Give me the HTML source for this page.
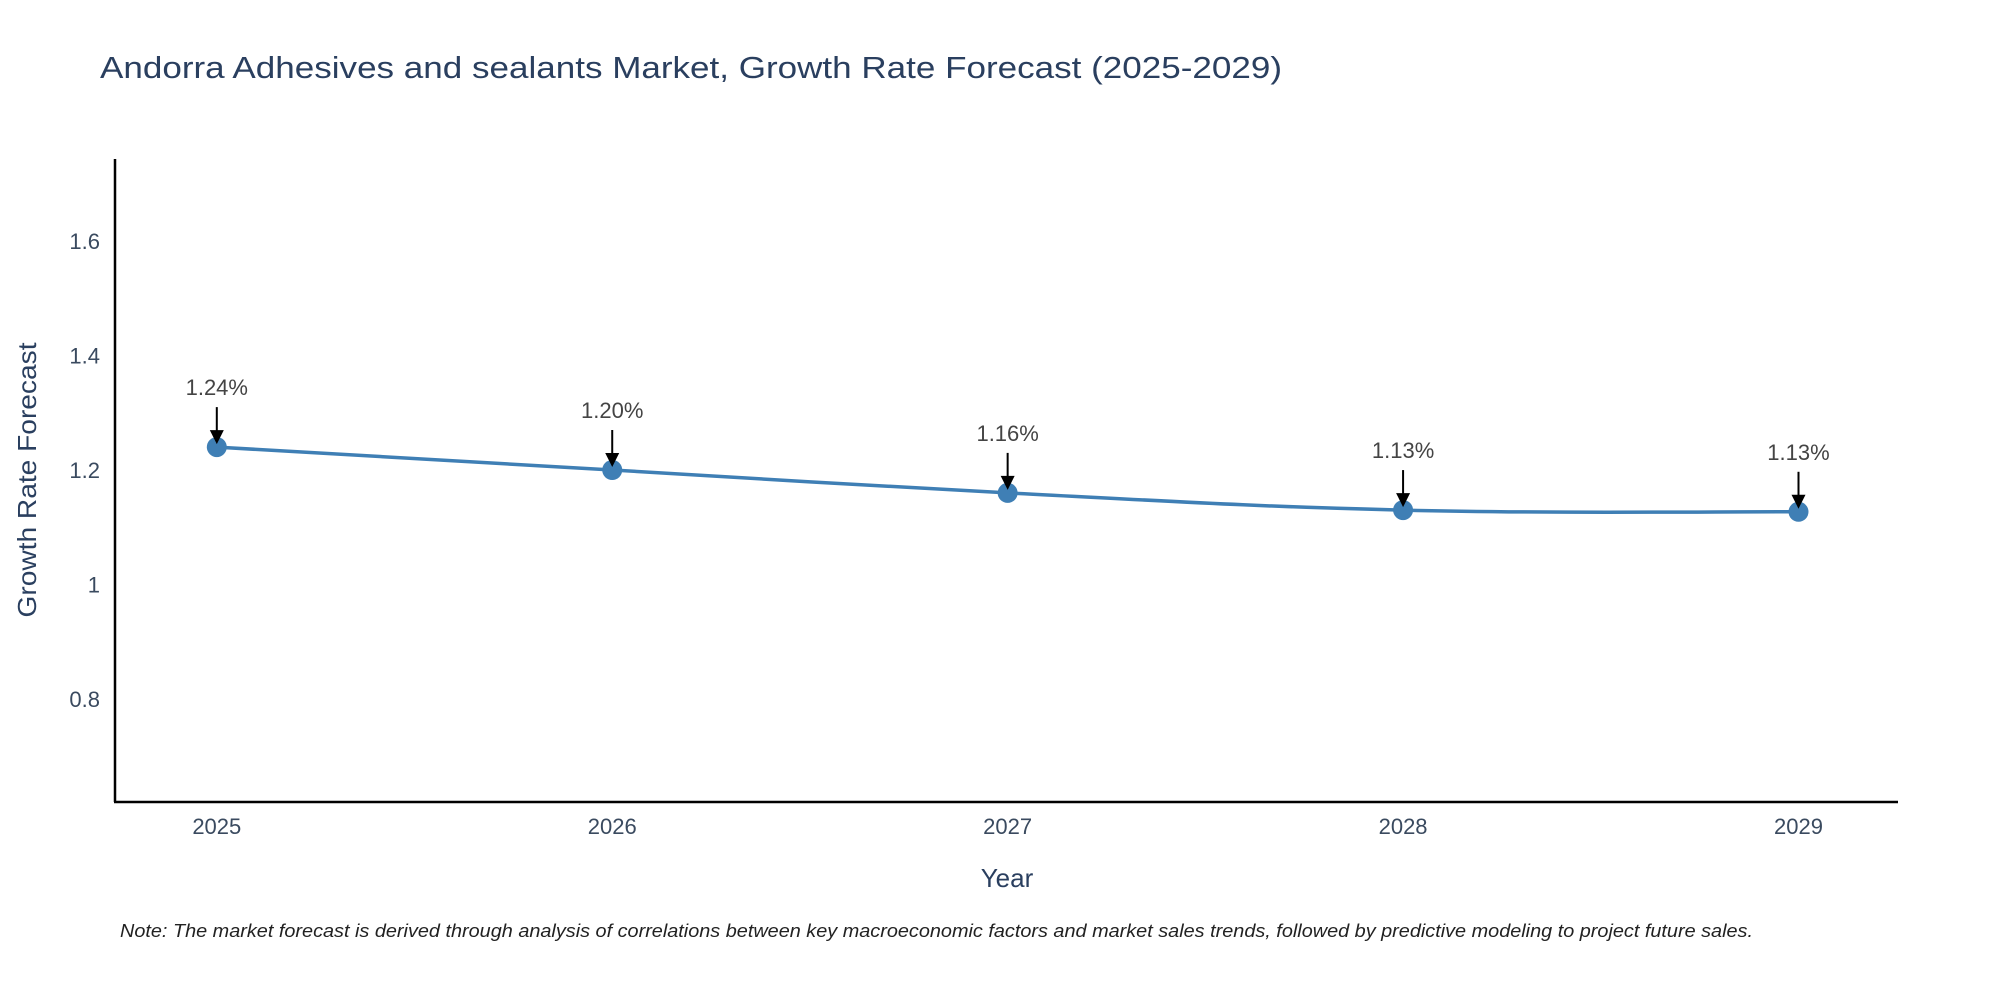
<!DOCTYPE html>
<html><head><meta charset="utf-8"><style>
body{margin:0;background:#fff;}
svg{display:block;font-family:"Liberation Sans",sans-serif;}
</style></head><body>
<svg id="chart" width="2000" height="1000" viewBox="0 0 2000 1000">
<text x="100" y="78" font-size="31" fill="#2a3f5f" textLength="1182" lengthAdjust="spacingAndGlyphs">Andorra Adhesives and sealants Market, Growth Rate Forecast (2025-2029)</text>
<g id="yticks"></g>
<g id="xticks"></g>
<line x1="115" y1="159" x2="115" y2="802" stroke="#000" stroke-width="2.5"/>
<line x1="114" y1="802" x2="1898" y2="802" stroke="#000" stroke-width="2.5"/>
<path id="line" fill="none" stroke="#3f7fb5" stroke-width="3.5"/>
<g id="points"></g>
<g id="annots"></g>
<text x="1007" y="887" font-size="26" fill="#2a3f5f" text-anchor="middle">Year</text>
<text transform="translate(36,480) rotate(-90)" font-size="26" fill="#2a3f5f" text-anchor="middle" textLength="275" lengthAdjust="spacingAndGlyphs">Growth Rate Forecast</text>
<text x="120" y="937" font-size="18" font-style="italic" fill="#222" textLength="1633" lengthAdjust="spacingAndGlyphs">Note: The market forecast is derived through analysis of correlations between key macroeconomic factors and market sales trends, followed by predictive modeling to project future sales.</text>
</svg>
<script>
const years = ["2025","2026","2027","2028","2029"];
const values = [1.24, 1.20, 1.16, 1.13, 1.127];
const labels = ["1.24%","1.20%","1.16%","1.13%","1.13%"];
const yTickVals = [0.8, 1, 1.2, 1.4, 1.6];
const yTickText = ["0.8","1","1.2","1.4","1.6"];
const NS="http://www.w3.org/2000/svg";
function xs(i){return 216.8 + i*(1798.5-216.8)/(years.length-1);}
function ys(v){return 699 - (v-0.8)*(458/0.8);}
function mk(tag,attrs,parent){const e=document.createElementNS(NS,tag);for(const k in attrs)e.setAttribute(k,attrs[k]);parent.appendChild(e);return e;}
const yt=document.getElementById('yticks');
yTickVals.forEach((v,i)=>{const t=mk('text',{x:100,y:ys(v)+8,'font-size':22,fill:'#3a4a5f','text-anchor':'end'},yt);


t.textContent=yTickText[i];});
const xt=document.getElementById('xticks');
years.forEach((y,i)=>{const t=mk('text',{x:xs(i),y:834,'font-size':22,fill:'#3a4a5f','text-anchor':'middle'},xt);


t.textContent=y;});
const P=values.map((v,i)=>[xs(i),ys(v)]);
let d='M'+P[0][0]+','+P[0][1];
for(let i=0;i<P.length-1;i++){const p0=P[Math.max(i-1,0)],p1=P[i],p2=P[i+1],p3=P[Math.min(i+2,P.length-1)];const k=0.2;
d+=' C'+(p1[0]+(p2[0]-p0[0])*k)+','+(p1[1]+(p2[1]-p0[1])*k)+' '+(p2[0]-(p3[0]-p1[0])*k)+','+(p2[1]-(p3[1]-p1[1])*k)+' '+p2[0]+','+p2[1];}
document.getElementById('line').setAttribute('d',d);
const pts=document.getElementById('points'),an=document.getElementById('annots');
P.forEach((p,i)=>{const c=mk('circle',{cx:p[0],cy:p[1],r:10,fill:'#3f7fb5'},pts);


const l=mk('line',{x1:p[0],y1:p[1]-40,x2:p[0],y2:p[1]-14,stroke:'#000','stroke-width':2},an);


const h=mk('polygon',{points:(p[0]-7)+','+(p[1]-17)+' '+(p[0]+7)+','+(p[1]-17)+' '+p[0]+','+(p[1]-3),fill:'#000'},an);


const t=mk('text',{x:p[0],y:p[1]-52,'font-size':22,fill:'#444','text-anchor':'middle'},an);


t.textContent=labels[i];});
</script>
</body></html>
